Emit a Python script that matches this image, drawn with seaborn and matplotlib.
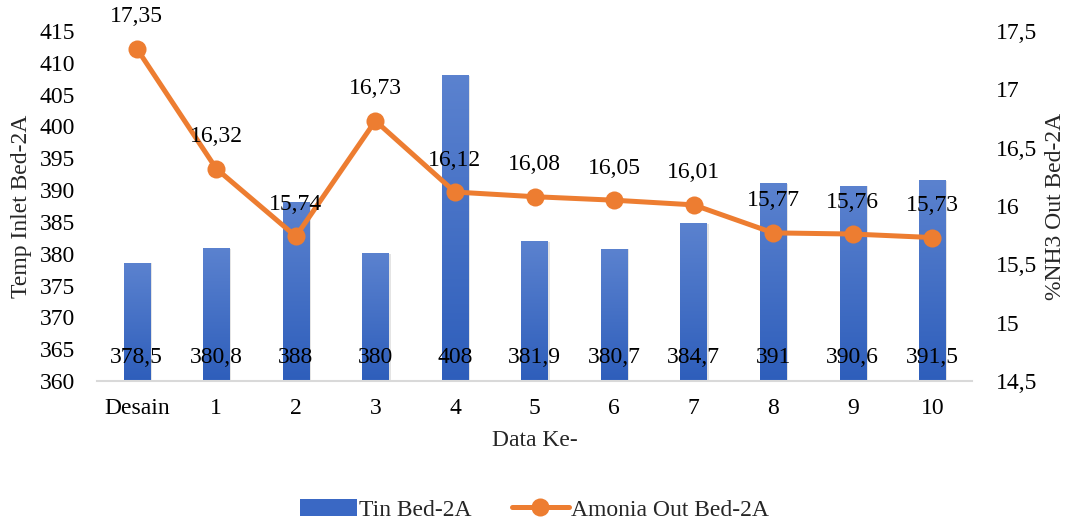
import numpy as np
import pandas as pd
import matplotlib
matplotlib.use("Agg")
import matplotlib.pyplot as plt
import seaborn as sns
from matplotlib.patches import Patch
from matplotlib.lines import Line2D

# data
categories = ["Desain", "1", "2", "3", "4", "5", "6", "7", "8", "9", "10"]
tin_bed = [378.5, 380.8, 388, 380, 408, 381.9, 380.7, 384.7, 391, 390.6, 391.5]
amonia_out = [17.35, 16.32, 15.74, 16.73, 16.12, 16.08, 16.05, 16.01, 15.77, 15.76, 15.73]
left_ticks = list(range(360, 416, 5))
right_ticks = [14.5, 15, 15.5, 16, 16.5, 17, 17.5]

def koma(v):
    # Indonesian decimal comma
    s = f"{v:g}"
    return s.replace(".", ",")

sns.set_theme(style="white")
plt.rcParams["font.family"] = ["Liberation Serif", "DejaVu Serif"]
FS = 17

BLUE = "#4472C4"
ORANGE = "#ED7D31"

df = pd.DataFrame({"data": categories, "tin": tin_bed, "nh3": amonia_out,
                   "pos": np.arange(len(categories))})

fig = plt.figure(figsize=(10.69, 5.22), dpi=100)
ax = fig.add_axes([0.0907, 0.270, 0.8186, 0.6706])

sns.barplot(data=df, x="data", y="tin", color=BLUE, width=0.33, ax=ax,
            saturation=1, zorder=2)
ymin, ymax = 360, 415
ax.set_ylim(ymin, ymax)
ax.set_xlim(-0.5, len(categories) - 0.5)

# vertical gradient on the bars, lighter at the top
grad = np.linspace(0, 1, 256).reshape(-1, 1)
cmap = matplotlib.colors.LinearSegmentedColormap.from_list("bl", ["#2E5EBB", "#5B82CF"])
for p in list(ax.patches):
    x0, w = p.get_x(), p.get_width()
    top = p.get_y() + p.get_height()
    p.set_visible(False)
    ax.imshow(grad, extent=[x0, x0 + w, ymin, top], origin="lower",
              cmap=cmap, aspect="auto", zorder=2, interpolation="bilinear")
    # soft shadow on the right side
    ax.add_patch(plt.Rectangle((x0 + w, ymin), 0.025, top - ymin, color="#d9d9d9",
                               alpha=0.7, zorder=1, lw=0))
ax.set_ylim(ymin, ymax)
ax.set_xlim(-0.5, len(categories) - 0.5)

for i, v in enumerate(tin_bed):
    ax.annotate(koma(v), xy=(i, ymin), xytext=(0, 17), textcoords="offset points",
                ha="center", va="center", fontsize=FS, color="black", zorder=5)

ax2 = ax.twinx()
sns.lineplot(data=df, x="pos", y="nh3", color=ORANGE, lw=3.6, marker="o",
             markersize=13, markeredgewidth=0, ax=ax2, zorder=4)
ax2.set_ylim(14.5, 17.5)
ax2.set_xlim(-0.5, len(categories) - 0.5)
for i, v in enumerate(amonia_out):
    ax2.annotate(koma(v), xy=(i, v), xytext=(0, 23), textcoords="offset points",
                 ha="center", va="center", fontsize=FS, color="black", zorder=6)

ax.set_yticks(left_ticks)
ax.set_yticklabels([str(t) for t in left_ticks])
ax2.set_yticks(right_ticks)
ax2.set_yticklabels([koma(t) for t in right_ticks])
ax.set_xticks(range(len(categories)))
ax.set_xticklabels(categories)

for a in (ax, ax2):
    for s in a.spines.values():
        s.set_visible(False)
    a.tick_params(length=0, labelsize=FS, colors="black")
ax.spines["bottom"].set_visible(True)
ax.spines["bottom"].set_color("#d9d9d9")
ax.spines["bottom"].set_linewidth(1.5)
ax.tick_params(axis="y", pad=16)
ax2.tick_params(axis="y", pad=17)
ax.tick_params(axis="x", pad=12)

ax.set_xlabel("Data Ke-", fontsize=FS, labelpad=8)
ax.set_ylabel("Temp Inlet Bed-2A", fontsize=FS, labelpad=5)
ax2.set_ylabel("%NH3 Out Bed-2A", fontsize=FS, labelpad=6)
ax.grid(False)
ax2.grid(False)
ax.set_zorder(1)
ax2.set_zorder(2)
ax.patch.set_visible(False)

handles = [Patch(facecolor="#3A68C4", edgecolor="none"),
           Line2D([0], [0], color=ORANGE, lw=3.6, marker="o", markersize=13,
                  markeredgewidth=0)]
fig.legend(handles, ["Tin Bed-2A", "Amonia Out Bed-2A"], loc="center",
           bbox_to_anchor=(0.5, 0.023), ncol=2, frameon=False, fontsize=FS,
           handlelength=2.4, handleheight=0.7, columnspacing=1.7, handletextpad=0.1)

fig.savefig("out.png", dpi=100)
